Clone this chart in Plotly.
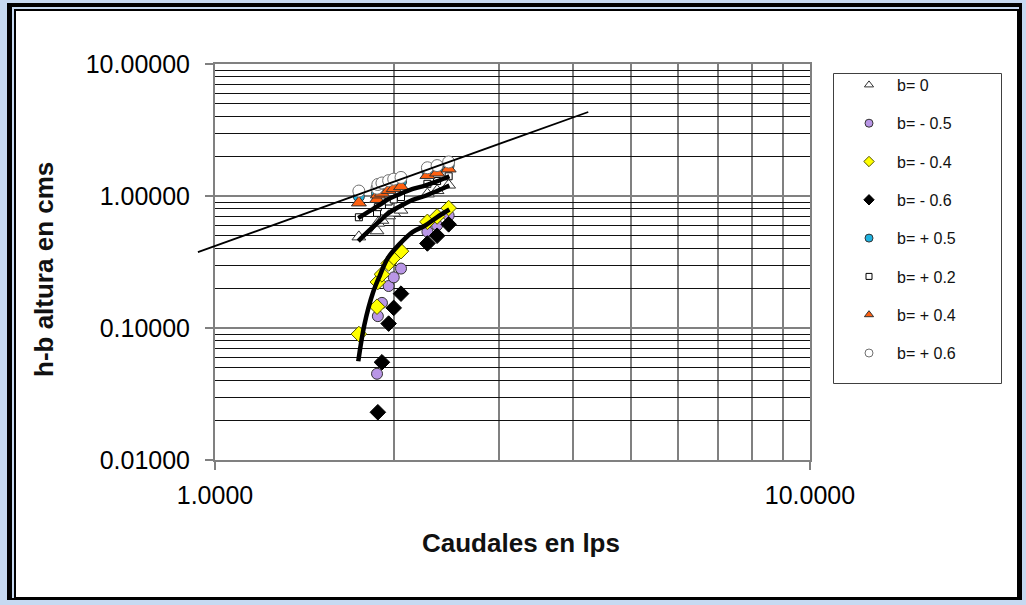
import plotly.graph_objects as go

# ---------------- data ----------------
q_all = [1.745, 1.872, 1.878, 1.908, 1.958, 1.997, 2.054, 2.275, 2.362, 2.470]
q_m05 = [1.872, 1.878, 1.908, 1.958, 1.997, 2.054, 2.275, 2.362, 2.470]
q_m06 = [1.878, 1.908, 1.958, 1.997, 2.054, 2.275, 2.362, 2.470]

y_b0 = [0.490, 0.545, 0.623, 0.655, 0.708, 0.742, 0.782, 1.037, 1.100, 1.210]
y_m05 = [0.045, 0.123, 0.155, 0.208, 0.242, 0.282, 0.537, 0.600, 0.710]
y_m04 = [0.090, 0.145, 0.223, 0.255, 0.308, 0.342, 0.382, 0.637, 0.700, 0.810]
y_m06 = [0.023, 0.055, 0.108, 0.142, 0.182, 0.437, 0.500, 0.610]
y_p05 = [0.990, 1.045, 1.123, 1.155, 1.208, 1.242, 1.282, 1.537, 1.600, 1.710]
y_p02 = [0.690, 0.745, 0.823, 0.855, 0.908, 0.942, 0.982, 1.237, 1.300, 1.410]
y_p04 = [0.890, 0.945, 1.023, 1.055, 1.108, 1.142, 1.182, 1.437, 1.500, 1.610]
y_p06 = [1.090, 1.145, 1.223, 1.255, 1.308, 1.342, 1.382, 1.637, 1.700, 1.810]

fit_q = [1.741, 1.782, 1.845, 1.894, 1.951, 2.040, 2.150, 2.253, 2.360, 2.477]
fit_low = [0.056, 0.105, 0.188, 0.252, 0.337, 0.430, 0.535, 0.595, 0.690, 0.790]
fit_mid = [0.456, 0.505, 0.585, 0.650, 0.735, 0.830, 0.935, 1.000, 1.090, 1.200]
fit_up = [0.680, 0.725, 0.800, 0.860, 0.940, 1.030, 1.130, 1.200, 1.290, 1.410]

line_q = [0.936, 4.24]
line_y = [0.376, 4.33]

legend_names = ["b= 0", "b= - 0.5", "b= - 0.4", "b= - 0.6",
                "b= + 0.5", "b= + 0.2", "b= + 0.4", "b= + 0.6"]
x_ticks = [1, 10]
x_ticktext = ["1.0000", "10.0000"]
y_ticks = [0.01, 0.1, 1, 10]
y_ticktext = ["0.01000", "0.10000", "1.00000", "10.00000"]

# ---------------- layout geometry ----------------
W, H = 1026, 605
ML, MR, MT, MB = 190, 216, 64, 145
PW = W - ML - MR
PH = H - MT - MB
AX_LEFT = 215


def pxx(p):
    return (p - ML) / PW


def pxy(p):
    return (H - MB - p) / PH


FONT = "Arial, 'Liberation Sans', sans-serif"
EDGE = "#333333"

styles = [
    dict(symbol="triangle-up", color="white", line=EDGE, size=12, lsize=8),
    dict(symbol="circle", color="#b996e6", line=EDGE, size=11, lsize=8),
    dict(symbol="diamond", color="#ffff00", line="#555500", size=12, lsize=8),
    dict(symbol="diamond", color="black", line="black", size=12, lsize=8),
    dict(symbol="circle", color="#1fb2e0", line=EDGE, size=11, lsize=8),
    dict(symbol="square", color="white", line="black", size=7, lsize=6),
    dict(symbol="triangle-up", color="#ff6010", line=EDGE, size=13, lsize=8),
    dict(symbol="circle", color="white", line="#707070", size=12, lsize=8),
]
series_x = [q_all, q_m05, q_all, q_m06, q_all, q_all, q_all, q_all]
series_y = [y_b0, y_m05, y_m04, y_m06, y_p05, y_p02, y_p04, y_p06]

fig = go.Figure()

for name, sx, sy, st in zip(legend_names, series_x, series_y, styles):
    fig.add_trace(go.Scatter(
        x=sx, y=sy, mode="markers", showlegend=False, name=name,
        marker=dict(symbol=st["symbol"], size=st["size"], color=st["color"],
                    line=dict(color=st["line"], width=1)),
        xaxis="x", yaxis="y"))

for fy in (fit_low, fit_mid, fit_up):
    fig.add_trace(go.Scatter(
        x=fit_q, y=fy, mode="lines", showlegend=False,
        line=dict(color="black", width=4.5, shape="spline"),
        xaxis="x", yaxis="y"))

fig.add_trace(go.Scatter(
    x=line_q, y=line_y, mode="lines", showlegend=False,
    line=dict(color="black", width=1.8), xaxis="x2", yaxis="y2"))

# legend-only entries with small symbols
for i, (name, st) in enumerate(zip(legend_names, styles)):
    fig.add_trace(go.Scatter(
        x=[None], y=[None], mode="markers", name=name, legendgroup=f"g{i}",
        marker=dict(symbol=st["symbol"], size=st["lsize"], color=st["color"],
                    line=dict(color=st["line"], width=1)),
        xaxis="x", yaxis="y"))

minor_vals = [m * 10 ** e for e in (-2, -1, 0) for m in range(2, 10)]
x_minor_vals = [m for m in range(2, 10)]

shapes = [
    dict(type="rect", xref="paper", yref="paper", layer="below",
         x0=pxx(7), x1=pxx(1022), y0=pxy(3), y1=pxy(600),
         fillcolor="black", line=dict(width=0)),
    dict(type="rect", xref="paper", yref="paper", layer="below",
         x0=pxx(12), x1=pxx(1019), y0=pxy(7), y1=pxy(598),
         fillcolor="#c6d9f1", line=dict(width=0)),
    dict(type="rect", xref="paper", yref="paper", layer="below",
         x0=pxx(14), x1=pxx(1019), y0=pxy(9), y1=pxy(598),
         fillcolor="black", line=dict(width=0)),
    dict(type="rect", xref="paper", yref="paper", layer="below",
         x0=pxx(16), x1=pxx(1017), y0=pxy(11), y1=pxy(597),
         fillcolor="white", line=dict(width=0)),
    dict(type="rect", xref="paper", yref="paper", layer="below",
         x0=pxx(833.5), x1=pxx(1001.5), y0=pxy(73.5), y1=pxy(383.5),
         fillcolor="white", line=dict(color="#404040", width=1)),
]

fig.update_layout(
    width=W, height=H,
    margin=dict(l=ML, r=MR, t=MT, b=MB, pad=0),
    paper_bgcolor="#c6d9f1",
    plot_bgcolor="rgba(0,0,0,0)",
    font=dict(family=FONT, color="black"),
    shapes=shapes,
    showlegend=True,
    legend=dict(x=pxx(841), y=pxy(68), xanchor="left", yanchor="top",
                bgcolor="rgba(0,0,0,0)", borderwidth=0,
                font=dict(family=FONT, size=16, color="#111111"),
                itemwidth=46, tracegroupgap=14.5, traceorder="grouped"),
    xaxis=dict(type="log", range=[0, 1], domain=[(AX_LEFT - ML) / PW, 1],
               anchor="y", tickmode="array", tickvals=x_ticks,
               ticktext=x_ticktext, ticks="outside", ticklen=8, tickwidth=2,
               tickcolor="#808080", tickfont=dict(size=25, family=FONT),
               ticklabelstandoff=4,
               showline=True, linecolor="#808080", linewidth=2, mirror=True,
               showgrid=True, gridcolor="#808080", gridwidth=1.5,
               minor=dict(tickmode="array", tickvals=x_minor_vals,
                          showgrid=True, gridcolor="#808080", gridwidth=1.5,
                          ticks=""),
               zeroline=False),
    yaxis=dict(type="log", range=[-2, 1], domain=[0, 1], anchor="x",
               tickmode="array", tickvals=y_ticks, ticktext=y_ticktext,
               ticks="outside", ticklen=8, tickwidth=2, tickcolor="#808080",
               tickfont=dict(size=25, family=FONT), ticklabelstandoff=10,
               showline=True, linecolor="#808080", linewidth=2, mirror=True,
               showgrid=True, gridcolor="#808080", gridwidth=1.5,
               minor=dict(tickmode="array", tickvals=minor_vals,
                          showgrid=True, gridcolor="#111111", gridwidth=1,
                          ticks=""),
               zeroline=False),
    xaxis2=dict(type="log", range=[-(AX_LEFT - ML) / 595, 1], domain=[0, 1],
                anchor="y2", visible=False, showgrid=False),
    yaxis2=dict(type="log", range=[-2, 1], domain=[0, 1], anchor="x2",
                visible=False, showgrid=False),
    annotations=[
        dict(text="Caudales en lps", xref="paper", yref="paper",
             x=pxx(521), y=pxy(543), xanchor="center", yanchor="middle",
             showarrow=False,
             font=dict(size=26, family=FONT, weight="bold", color="#111111")),
        dict(text="h-b altura en cms", xref="paper", yref="paper",
             x=pxx(44), y=pxy(270), xanchor="center", yanchor="middle",
             showarrow=False, textangle=-90,
             font=dict(size=26, family=FONT, weight="bold", color="#111111")),
    ],
)

fig.write_html("out.html")
